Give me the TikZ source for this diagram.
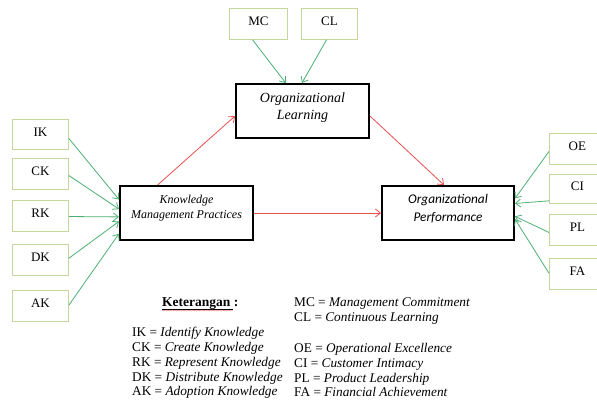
\documentclass[tikz,border=0pt]{standalone}
\usepackage{fontspec}
\setmainfont{Liberation Serif}
\newfontfamily\carlito{Carlito}
\usetikzlibrary{arrows.meta,calc,decorations.pathmorphing}
\definecolor{boxol}{RGB}{196,214,155}
\definecolor{grn}{RGB}{76,176,116}
\definecolor{rd}{RGB}{232,80,80}
\tikzset{
  small/.style={draw=boxol,line width=0.8pt,minimum width=56pt,minimum height=30pt,inner sep=0pt,anchor=north west,text height=9pt,text depth=5pt,font=\fontsize{13}{15}\selectfont},
  main/.style={draw=black,line width=2pt,minimum width=133pt,minimum height=54pt,inner sep=0pt,anchor=north west,align=center},
  garr/.style={draw=grn,line width=0.8pt,-{Straight Barb[length=5pt,width=8pt]}},
  rarr/.style={draw=rd,line width=0.8pt,-{Straight Barb[length=5pt,width=8pt]}},
  leg/.style={anchor=base west,inner sep=0pt,font=\fontsize{13.3}{15}\selectfont}
}
\begin{document}
\begin{tikzpicture}[x=1pt,y=-1pt]
\useasboundingbox (0,0) rectangle (597,403);
\fill[white] (0,0) rectangle (597,403);
\begin{scope}
\clip (0,0) rectangle (597,403);
% top boxes
\node[small,minimum width=58pt,minimum height=31pt] (mc) at (229,8) {MC};
\node[small,minimum height=31pt] (cl) at (301,8) {CL};
% left boxes
\node[small] (ik) at (12,119) {IK};
\node[small,minimum height=31pt] (ck) at (12,158) {CK};
\node[small,minimum height=31pt] (rk) at (12,200) {RK};
\node[small,minimum height=31pt] (dk) at (12,244) {DK};
\node[small,minimum height=31pt] (ak) at (12,290) {AK};
% right boxes
\node[small,minimum height=31pt] (oe) at (549,133) {OE};
\node[small,minimum height=29pt] (ci) at (549,174) {CI};
\node[small,minimum height=31pt] (pl) at (549,214) {PL};
\node[small,minimum height=31pt] (fa) at (549,258) {FA};
\end{scope}
% main boxes
\node[main,text depth=10pt,font=\fontsize{14}{17}\selectfont\itshape] (ol) at (235,83) {Organizational\\Learning};
\node[main,text depth=13pt,font=\fontsize{12}{15}\selectfont\itshape] (kmp) at (119,185) {Knowledge\\Management Practices};
\node[main,minimum width=132pt,text depth=9.5pt,font=\carlito\fontsize{13.3}{18}\selectfont\itshape] (op) at (381,185) {Organizational\\Performance};
% green arrows
\draw[garr] ($(mc.south west)!0.4!(mc.south east)$) -- ($(ol.north west)!0.376!(ol.north east)$);
\draw[garr] ($(cl.south west)!0.45!(cl.south east)$) -- ($(ol.north west)!0.496!(ol.north east)$);
\draw[garr] ($(ik.north east)!0.63!(ik.south east)$) -- ($(kmp.north west)!0.26!(kmp.south west)$);
\draw[garr] ($(ck.north east)!0.55!(ck.south east)$) -- ($(kmp.north west)!0.43!(kmp.south west)$);
\draw[garr] ($(rk.north east)!0.52!(rk.south east)$) -- ($(kmp.north west)!0.57!(kmp.south west)$);
\draw[garr] ($(dk.north east)!0.45!(dk.south east)$) -- ($(kmp.north west)!0.65!(kmp.south west)$);
\draw[garr] ($(ak.north east)!0.48!(ak.south east)$) -- ($(kmp.north west)!0.87!(kmp.south west)$);
\draw[garr] ($(oe.north west)!0.58!(oe.south west)$) -- ($(op.north east)!0.24!(op.south east)$);
\draw[garr] ($(ci.north west)!0.9!(ci.south west)$) -- ($(op.north east)!0.33!(op.south east)$);
\draw[garr] ($(pl.north west)!0.58!(pl.south west)$) -- ($(op.north east)!0.56!(op.south east)$);
\draw[garr] ($(fa.north west)!0.48!(fa.south west)$) -- ($(op.north east)!0.61!(op.south east)$);
% red arrows
\draw[rarr] ($(kmp.north west)!0.286!(kmp.north east)$) -- ($(ol.north west)!0.59!(ol.south west)$);
\draw[rarr] ($(ol.north east)!0.59!(ol.south east)$) -- ($(op.north west)!0.47!(op.north east)$);
\draw[rarr] (kmp.east) -- (op.west);
% legend
\node[leg,font=\fontsize{13.5}{15}\selectfont\bfseries] (ket) at (162,307) {Keterangan :};
\draw[line width=0.5pt] ($(ket.base west)+(0,2)$) -- ($(ket.base east)+(-6,2)$);
\draw[rd!80,line width=0.4pt,decorate,decoration={snake,amplitude=0.5pt,segment length=2.5pt}] ($(ket.base west)+(0,3.5)$) -- ($(ket.base east)+(-6,3.5)$);
\node[leg] (l1) at (132,337) {IK = \textit{Identify Knowledge}};
\node[leg] (l2) at (132,352) {CK = \textit{Create Knowledge}};
\node[leg] (l3) at (132,366.5) {RK = \textit{Represent Knowledge}};
\node[leg] (l4) at (132,381) {DK = \textit{Distribute Knowledge}};
\node[leg] (l5) at (132,395.5) {AK = \textit{Adoption Knowledge}};
\node[leg] (r1) at (294,307) {MC = \textit{Management Commitment}};
\node[leg] (r2) at (294,322) {CL = \textit{Continuous Learning}};
\node[leg] (r3) at (294,352.5) {OE = \textit{Operational Excellence}};
\node[leg] (r4) at (294,367) {CI = \textit{Customer Intimacy}};
\node[leg] (r5) at (294,382) {PL = \textit{Product Leadership}};
\node[leg] (r6) at (294,396.5) {FA = \textit{Financial Achievement}};
\end{tikzpicture}
\end{document}
